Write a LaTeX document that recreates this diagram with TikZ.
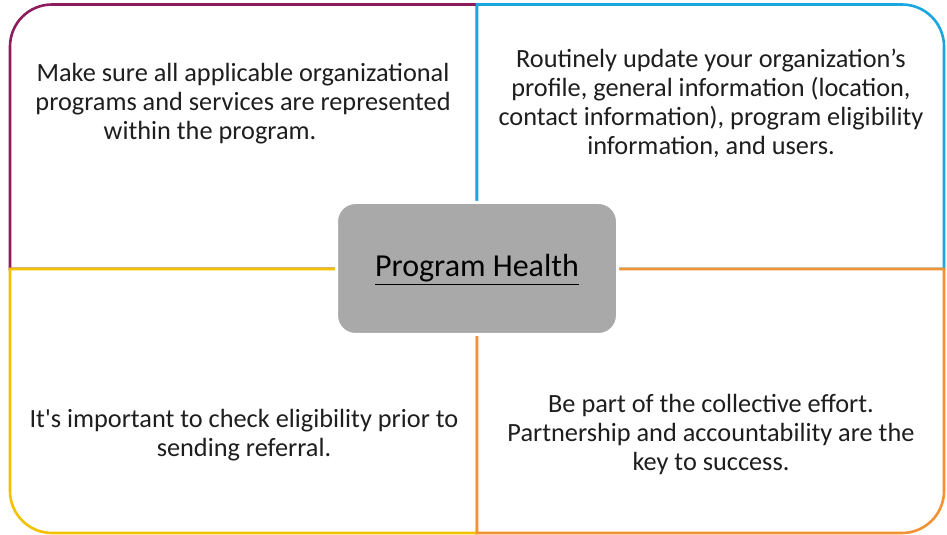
\documentclass[tikz,border=0pt]{standalone}
\usepackage{fontspec}
\setmainfont{Carlito}[Ligatures=TeXOff]
\definecolor{qpurple}{HTML}{8C1C5B}
\definecolor{qblue}{HTML}{1AA7DF}
\definecolor{qyellow}{HTML}{F2C200}
\definecolor{qorange}{HTML}{F39233}
\definecolor{qgray}{HTML}{A9A9A9}
\definecolor{qtext}{HTML}{1E1E1E}
\tikzset{
  quad/.style={line width=2.6pt, fill=white},
  body/.style={anchor=base, align=center, text=qtext, font=\fontsize{26.3}{29.3}\selectfont, inner sep=0pt},
  hub/.style={fill=qgray, draw=white, line width=3pt, rounded corners=19pt,
              minimum width=281pt, minimum height=132pt, inner sep=0pt},
}
\begin{document}
\begin{tikzpicture}[x=1pt,y=1pt]
\useasboundingbox (0,0) rectangle (947,535);
% quadrants
\draw[quad, draw=qpurple] (477,266) -- (10,266) -- (10,488.5) arc[start angle=180,end angle=90,radius=42pt] -- (477,530.5) -- cycle;
\draw[quad, draw=qblue] (477,266) -- (477,530.5) -- (902,530.5) arc[start angle=90,end angle=0,radius=42pt] -- (944,266) -- cycle;
\draw[quad, draw=qyellow] (477,266) -- (10,266) -- (10,44) arc[start angle=180,end angle=270,radius=42pt] -- (477,2) -- cycle;
\draw[quad, draw=qorange] (477,266) -- (944,266) -- (944,44) arc[start angle=0,end angle=-90,radius=42pt] -- (477,2) -- cycle;
% center
\node[hub] (hub) at (477,266.5) {};
\node[anchor=base, text=black, font=\fontsize{32}{38}\selectfont, inner sep=0pt] (title) at (477,258) {\underline{Program Health}};
% texts
\node[body] (tl) at (243,395) {Make sure all applicable organizational\\programs and services are represented\\within the program.\hspace*{66pt}};
\node[body] (tr) at (711,380) {Routinely update your organization’s\\profile, general information (location,\\contact information), program eligibility\\information, and users.};
\node[body] (bl) at (244,78) {It's important to check eligibility prior to\\sending referral.};
\node[body] (br) at (711,64) {Be part of the collective effort.\\Partnership and accountability are the\\key to success.};
\end{tikzpicture}
\end{document}
